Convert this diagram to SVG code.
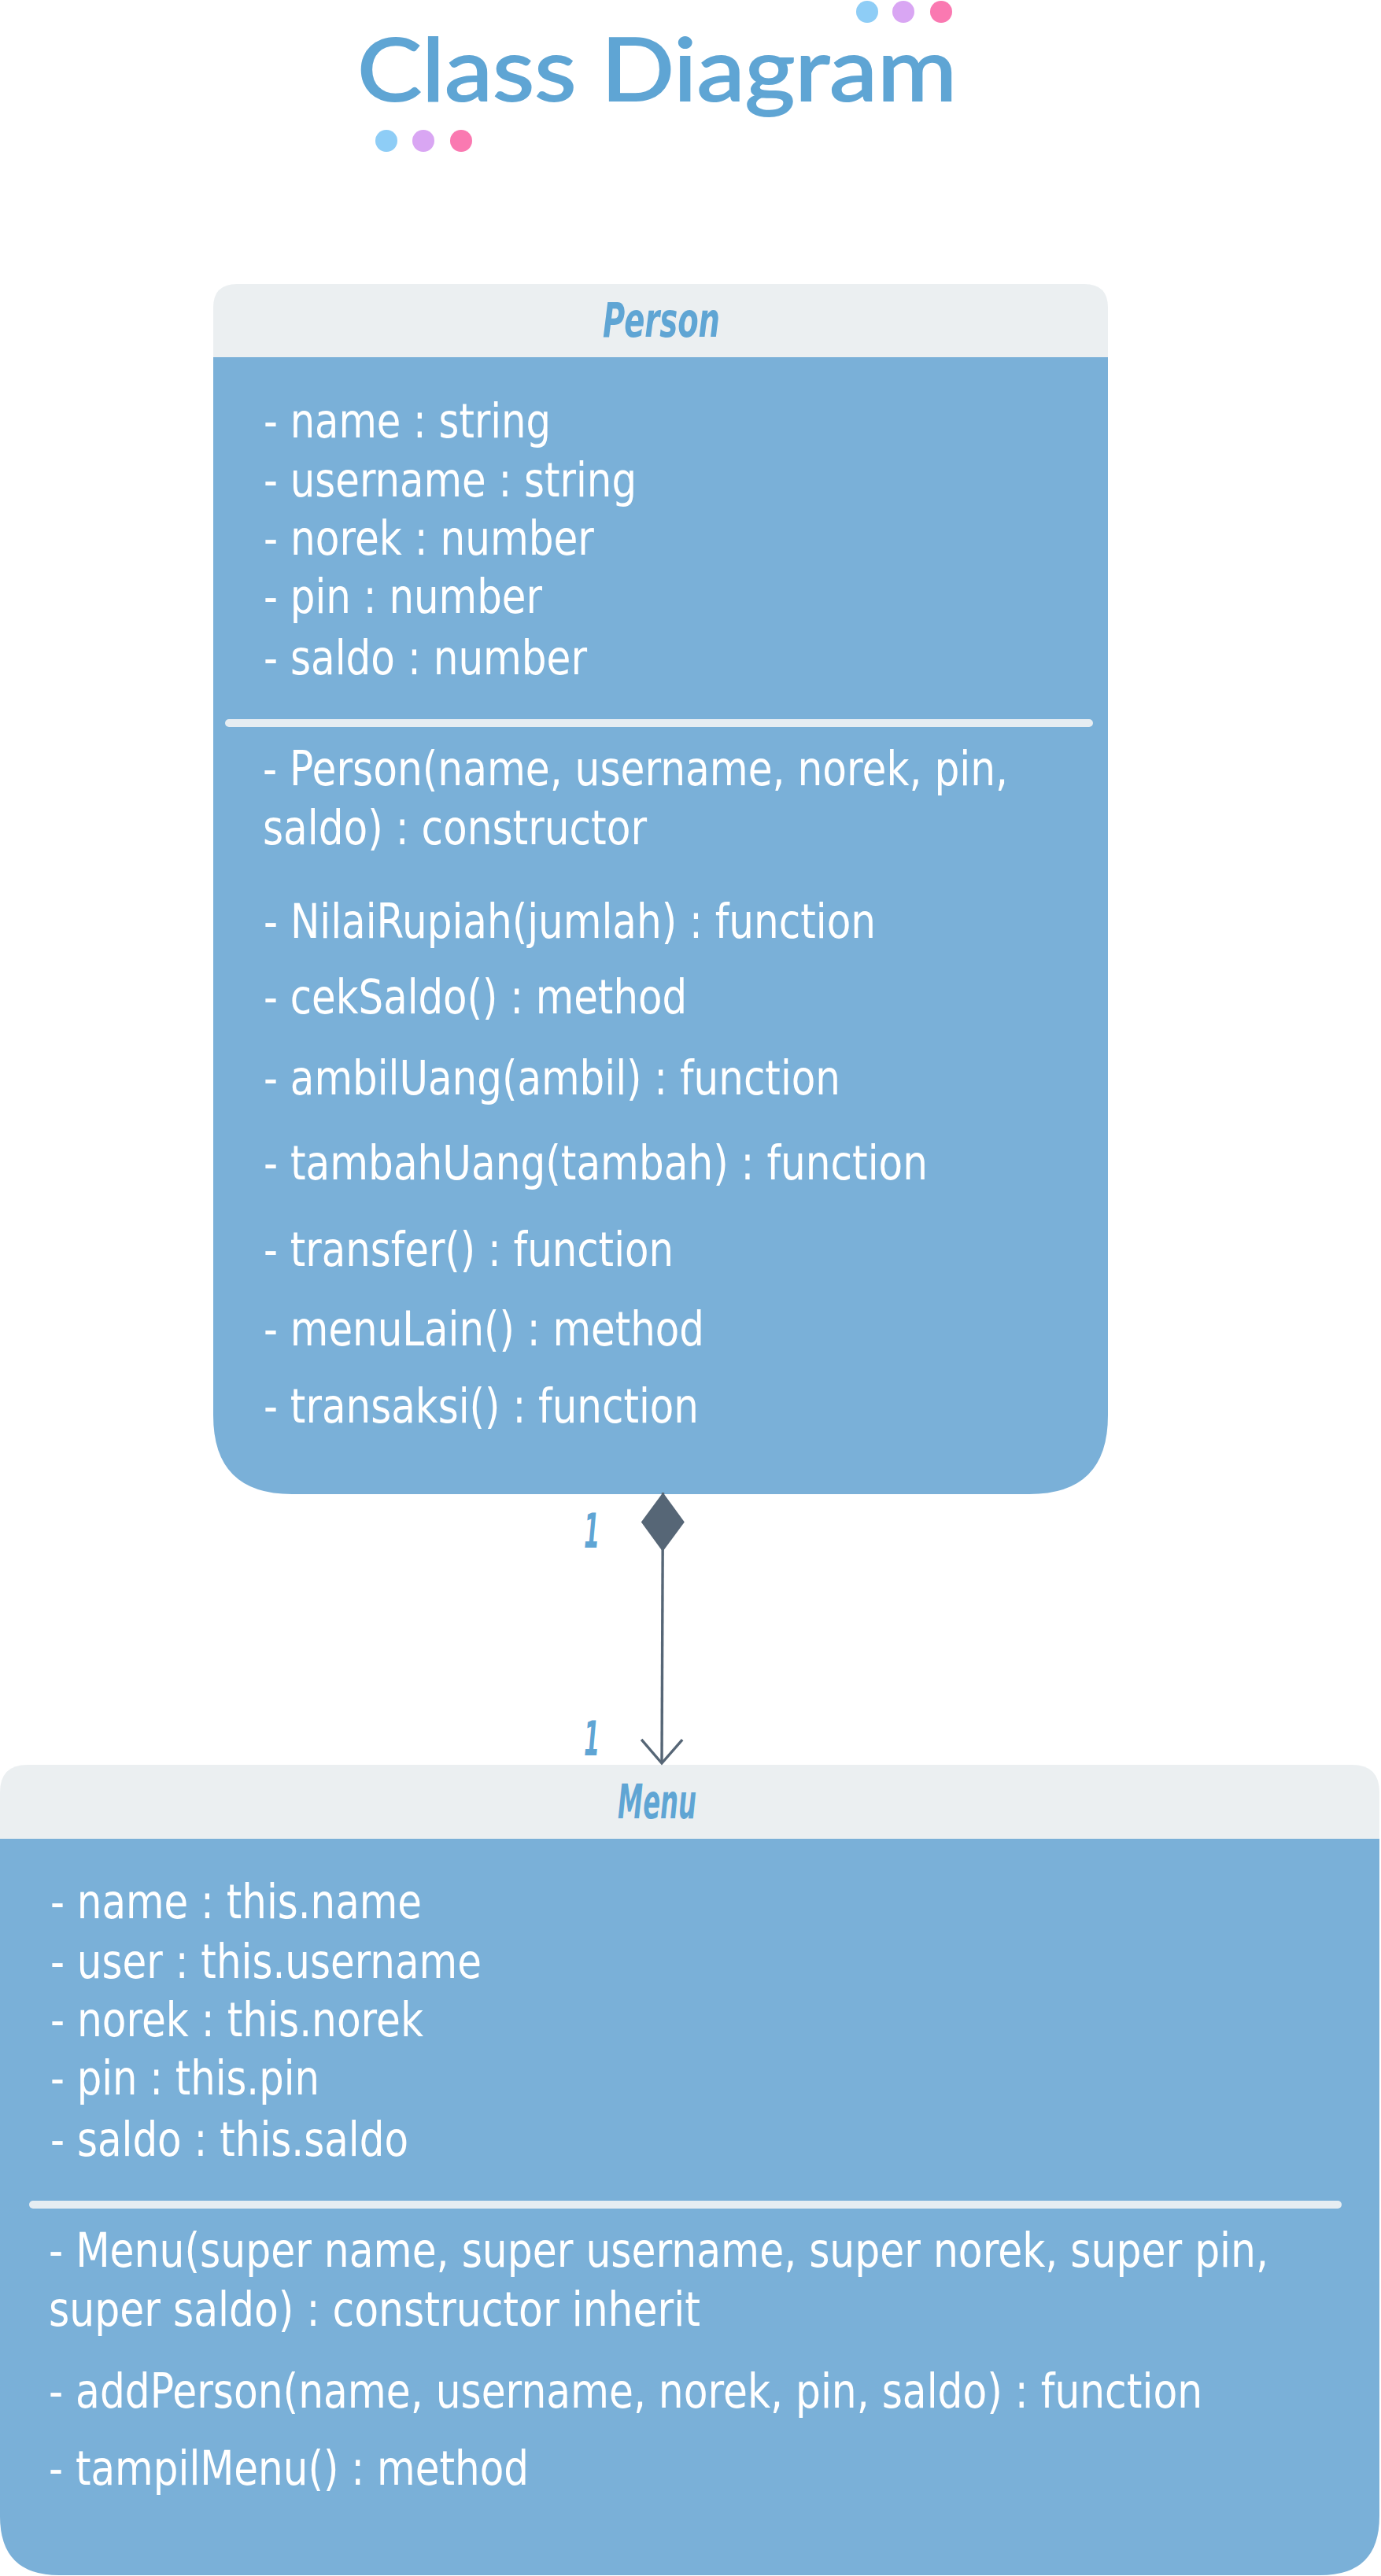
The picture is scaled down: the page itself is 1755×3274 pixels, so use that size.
<svg xmlns="http://www.w3.org/2000/svg" width="1755" height="3274" viewBox="0 0 1755 3274">
<defs>
<style>
.title{font-family:Lato,"Open Sans",sans-serif;font-size:111px;fill:#5fa5d4;stroke:#5fa5d4;stroke-width:2}
.head{font-family:"DejaVu Sans","Liberation Sans",sans-serif;font-size:60px;font-weight:bold;font-style:italic;fill:#5fa5d4}
.mult{font-family:"DejaVu Sans","Liberation Sans",sans-serif;font-size:60px;font-weight:bold;font-style:italic;fill:#5fa5d4}
.txt{font-family:"DejaVu Sans","Liberation Sans",sans-serif;font-size:60px;fill:#ffffff}
.hdr{fill:#ebeff1}
.body{fill:#7ab0d8}
.sep{fill:#e6edf2}
.conn{stroke:#566676;stroke-width:3.4;fill:none}
</style>
<marker id="diamond" markerUnits="userSpaceOnUse" viewBox="0 -28 76 56" markerWidth="76" markerHeight="56" refX="0" refY="0" orient="auto" overflow="visible">
<path d="M0,0 L37.5,-27.5 L75,0 L37.5,27.5 Z" fill="#566676"/>
</marker>
<marker id="openArrow" markerUnits="userSpaceOnUse" viewBox="-36 -32 40 64" markerWidth="40" markerHeight="64" refX="0" refY="0" orient="auto" overflow="visible">
<path d="M-30,-26 L0,0 L-30,26" fill="none" stroke="#566676" stroke-width="3.4"/>
</marker>
</defs>
<rect x="0" y="0" width="1755" height="3274" fill="#ffffff"/>

<g id="title">
<text class="title" x="454" y="128" textLength="762" lengthAdjust="spacingAndGlyphs">Class Diagram</text>
<circle cx="1102" cy="15" r="14" fill="#8ecdf6"/>
<circle cx="1148" cy="15" r="14" fill="#d9a6f3"/>
<circle cx="1196" cy="15" r="14" fill="#fa79b1"/>
<circle cx="491" cy="179" r="14" fill="#8ecdf6"/>
<circle cx="538" cy="179" r="14" fill="#d9a6f3"/>
<circle cx="586" cy="179" r="14" fill="#fa79b1"/>
</g>

<g id="person">
<path class="hdr" d="M271,454 L271,391 Q271,361 301,361 L1378,361 Q1408,361 1408,391 L1408,454 Z"/>
<path class="body" d="M271,454 L1408,454 L1408,1799 Q1408,1899 1308,1899 L371,1899 Q271,1899 271,1799 Z"/>
<text class="head" x="766" y="428" textLength="149" lengthAdjust="spacingAndGlyphs">Person</text>
<rect class="sep" x="286" y="914" width="1103" height="10" rx="5"/>
<g transform="scale(0.83,1)">
<text class="txt" x="403.6" y="556" textLength="439.8" lengthAdjust="spacingAndGlyphs">- name : string</text>
<text class="txt" x="403.6" y="631" textLength="571.1" lengthAdjust="spacingAndGlyphs">- username : string</text>
<text class="txt" x="403.6" y="705" textLength="506" lengthAdjust="spacingAndGlyphs">- norek : number</text>
<text class="txt" x="403.6" y="779" textLength="426.5" lengthAdjust="spacingAndGlyphs">- pin : number</text>
<text class="txt" x="403.6" y="857" textLength="495.2" lengthAdjust="spacingAndGlyphs">- saldo : number</text>
<text class="txt" x="402.4" y="998" textLength="1141" lengthAdjust="spacingAndGlyphs">- Person(name, username, norek, pin,</text>
<text class="txt" x="402.4" y="1073" textLength="588" lengthAdjust="spacingAndGlyphs">saldo) : constructor</text>
<text class="txt" x="403.6" y="1192" textLength="937.3" lengthAdjust="spacingAndGlyphs">- NilaiRupiah(jumlah) : function</text>
<text class="txt" x="403.6" y="1288" textLength="648.2" lengthAdjust="spacingAndGlyphs">- cekSaldo() : method</text>
<text class="txt" x="403.6" y="1391" textLength="883.1" lengthAdjust="spacingAndGlyphs">- ambilUang(ambil) : function</text>
<text class="txt" x="403.6" y="1499" textLength="1016.9" lengthAdjust="spacingAndGlyphs">- tambahUang(tambah) : function</text>
<text class="txt" x="403.6" y="1609" textLength="627.7" lengthAdjust="spacingAndGlyphs">- transfer() : function</text>
<text class="txt" x="403.6" y="1710" textLength="674.7" lengthAdjust="spacingAndGlyphs">- menuLain() : method</text>
<text class="txt" x="403.6" y="1808" textLength="666.3" lengthAdjust="spacingAndGlyphs">- transaksi() : function</text>
</g>
</g>

<g id="menu">
<path class="hdr" d="M0,2337 L0,2278 Q0,2243 35,2243 L1718,2243 Q1753,2243 1753,2278 L1753,2337 Z"/>
<path class="body" d="M0,2337 L1753,2337 L1753,3198 Q1753,3273 1678,3273 L75,3273 Q0,3273 0,3198 Z"/>
<text class="head" x="785" y="2311" textLength="100" lengthAdjust="spacingAndGlyphs">Menu</text>
<rect class="sep" x="37" y="2797" width="1668" height="10" rx="5"/>
<g transform="scale(0.83,1)">
<text class="txt" x="77.1" y="2438" textLength="568.7" lengthAdjust="spacingAndGlyphs">- name : this.name</text>
<text class="txt" x="77.1" y="2514" textLength="660.2" lengthAdjust="spacingAndGlyphs">- user : this.username</text>
<text class="txt" x="77.1" y="2588" textLength="571.1" lengthAdjust="spacingAndGlyphs">- norek : this.norek</text>
<text class="txt" x="77.1" y="2662" textLength="412" lengthAdjust="spacingAndGlyphs">- pin : this.pin</text>
<text class="txt" x="77.1" y="2740" textLength="548.2" lengthAdjust="spacingAndGlyphs">- saldo : this.saldo</text>
<text class="txt" x="74.7" y="2881" textLength="1867.5" lengthAdjust="spacingAndGlyphs">- Menu(super name, super username, super norek, super pin,</text>
<text class="txt" x="74.7" y="2956" textLength="997.6" lengthAdjust="spacingAndGlyphs">super saldo) : constructor inherit</text>
<text class="txt" x="74.7" y="3060" textLength="1766.3" lengthAdjust="spacingAndGlyphs">- addPerson(name, username, norek, pin, saldo) : function</text>
<text class="txt" x="74.7" y="3158" textLength="734.9" lengthAdjust="spacingAndGlyphs">- tampilMenu() : method</text>
</g>
</g>

<g id="connectors">
<path class="conn" d="M842.5,1897 L841,2241" marker-start="url(#diamond)" marker-end="url(#openArrow)"/>
<text class="mult" x="742" y="1967" textLength="20" lengthAdjust="spacingAndGlyphs">1</text>
<text class="mult" x="742" y="2231" textLength="20" lengthAdjust="spacingAndGlyphs">1</text>
</g>
</svg>
